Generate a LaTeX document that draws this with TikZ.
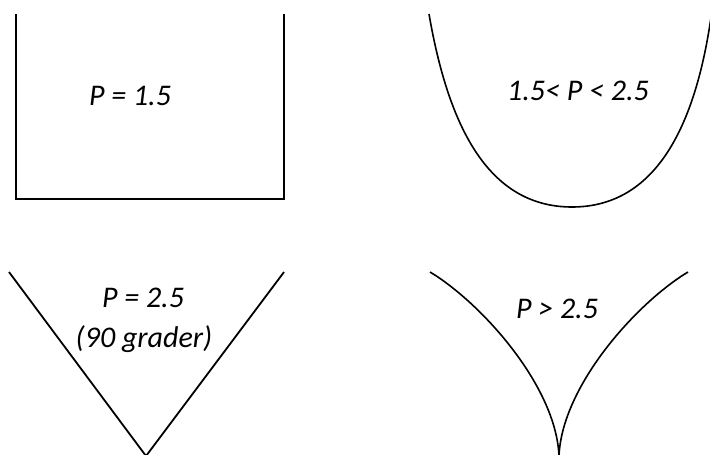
\documentclass[tikz,border=0pt]{standalone}
\usepackage{fontspec}
\setmainfont{Carlito}
\begin{document}
\begin{tikzpicture}[x=1pt,y=-1pt,
  shapeline/.style={line width=1.8pt,black},
  curveline/.style={line width=1.6pt,black},
  lbl/.style={anchor=base,inner sep=0pt,font=\fontsize{30}{36}\selectfont\itshape}]
\useasboundingbox (0,0) rectangle (710,455);
\clip (0,0) rectangle (710,455);
% open box
\draw[shapeline,line width=2.1pt] (16,14) -- (16,199) -- (284,199) -- (284,14);
% U curve
\draw[curveline] (429,14) .. controls (448,124) and (487,207) .. (572,207)
  .. controls (657,207) and (696,124) .. (711.5,14);
% V
\draw[shapeline] (9,272) -- (146,456) -- (284,272);
% cusp
\draw[curveline] (430,272) .. controls (480,302) and (556,385) .. (559,456);
\draw[curveline] (688,272) .. controls (638,302) and (562,385) .. (559,456);
% labels
\node[lbl] (t1) at (130,105) {P = 1.5};
\node[lbl] (t2) at (578,100) {1.5< P < 2.5};
\node[lbl] (t3) at (143,307) {P = 2.5};
\node[lbl] (t4) at (144,347) {(90 grader)};
\node[lbl] (t5) at (557,318) {P > 2.5};
\end{tikzpicture}
\end{document}
